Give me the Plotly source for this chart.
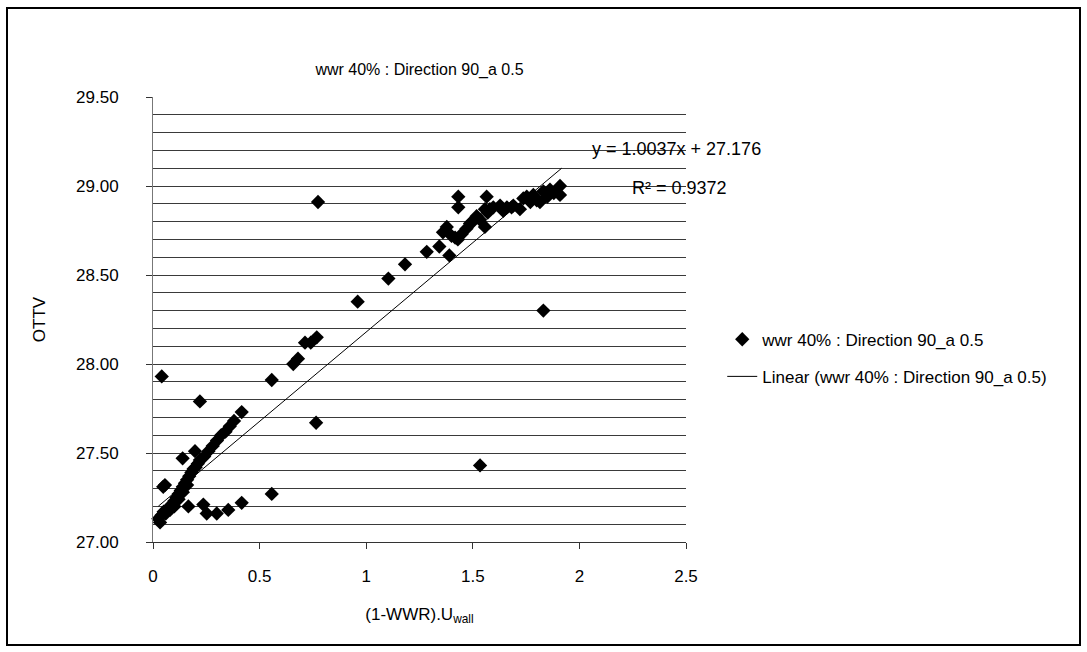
import plotly.graph_objects as go

# ---------------- data ----------------
x_vals = [
    0.025, 0.033, 0.040, 0.050, 0.060, 0.070, 0.080, 0.090, 0.100, 0.100,
    0.110, 0.120, 0.120, 0.130, 0.140, 0.140, 0.150, 0.160, 0.160, 0.170,
    0.180, 0.190, 0.200, 0.210, 0.220, 0.240, 0.260, 0.280, 0.300, 0.320,
    0.340, 0.360, 0.380,
    0.041, 0.048, 0.056, 0.139, 0.197, 0.220, 0.416, 0.166, 0.236, 0.252,
    0.299, 0.353, 0.416, 0.557, 0.557, 0.658, 0.680, 0.713, 0.740, 0.768,
    0.765, 0.774, 0.960, 1.104, 1.182, 1.284, 1.343, 1.390, 1.432, 1.432,
    1.565, 1.534, 1.831,
    1.360, 1.378, 1.400, 1.417, 1.430, 1.448, 1.470, 1.487, 1.500, 1.518,
    1.534, 1.557, 1.557, 1.570, 1.580, 1.596, 1.628, 1.643, 1.660, 1.682,
    1.690, 1.721, 1.737, 1.753, 1.770, 1.784, 1.800, 1.815, 1.831, 1.850,
    1.862, 1.880, 1.909, 1.909,
]
y_vals = [
    27.13, 27.11, 27.15, 27.17, 27.16, 27.19, 27.18, 27.21, 27.20, 27.23,
    27.25, 27.24, 27.27, 27.29, 27.28, 27.31, 27.33, 27.32, 27.35, 27.37,
    27.39, 27.41, 27.42, 27.44, 27.46, 27.48, 27.51, 27.54, 27.57, 27.60,
    27.62, 27.65, 27.68,
    27.93, 27.31, 27.32, 27.47, 27.51, 27.79, 27.73, 27.20, 27.21, 27.16,
    27.16, 27.18, 27.22, 27.27, 27.91, 28.00, 28.03, 28.12, 28.12, 28.15,
    27.67, 28.91, 28.35, 28.48, 28.56, 28.63, 28.66, 28.61, 28.94, 28.88,
    28.94, 27.43, 28.30,
    28.74, 28.77, 28.72, 28.71, 28.70, 28.73, 28.76, 28.79, 28.80, 28.83,
    28.81, 28.87, 28.77, 28.85, 28.87, 28.88, 28.89, 28.86, 28.88, 28.88,
    28.89, 28.87, 28.93, 28.94, 28.91, 28.95, 28.92, 28.91, 28.97, 28.94,
    28.98, 28.96, 29.00, 28.95,
]

series_name = "wwr 40% : Direction 90_a 0.5"
trend_name = "Linear (wwr 40% : Direction 90_a 0.5)"
trend_slope = 1.0037
trend_intercept = 27.176
trend_x = [min(x_vals), 1.917]
trend_y = [trend_slope * v + trend_intercept for v in trend_x]

x_ticks = [0, 0.5, 1, 1.5, 2, 2.5]
x_tick_text = ["0", "0.5", "1", "1.5", "2", "2.5"]
y_ticks = [27.0, 27.5, 28.0, 28.5, 29.0, 29.5]
y_tick_text = ["27.00", "27.50", "28.00", "28.50", "29.00", "29.50"]

FONT = "Liberation Sans, Arial, sans-serif"
NARROW = "Liberation Sans Narrow, Arial Narrow, Liberation Sans, Arial, sans-serif"

fig = go.Figure()
fig.add_trace(go.Scatter(
    x=x_vals, y=y_vals, mode="markers", name=series_name,
    marker=dict(symbol="diamond", size=11, color="black"),
    legendgroup="a", cliponaxis=False,
))
fig.add_trace(go.Scatter(
    x=trend_x, y=trend_y, mode="lines", name=trend_name,
    line=dict(color="black", width=1), legendgroup="b",
))

fig.update_layout(
    width=1087, height=652,
    margin=dict(l=153, r=401, t=97, b=110),
    paper_bgcolor="white", plot_bgcolor="white",
    font=dict(family=FONT, size=17, color="black"),
    title=dict(text=series_name, x=(153 + 686) / 2 / 1087, xanchor="center",
               y=1 - 69 / 652, yanchor="middle",
               font=dict(size=16, family=NARROW)),
    showlegend=True,
    legend=dict(x=1.068, y=0.495, xanchor="left", yanchor="top",
                font=dict(size=17), tracegroupgap=12, itemwidth=30,
                bgcolor="rgba(0,0,0,0)"),
    annotations=[
        dict(text="y = 1.0037x + 27.176", x=2.05, y=29.21, xref="x", yref="y",
             xanchor="left", yanchor="middle", showarrow=False, font=dict(size=18)),
        dict(text="R² = 0.9372", x=2.237, y=28.99, xref="x", yref="y",
             xanchor="left", yanchor="middle", showarrow=False, font=dict(size=18)),
    ],
    shapes=[
        dict(type="rect", xref="paper", yref="paper",
             x0=(7 - 153) / 533, x1=(1080 - 153) / 533,
             y0=(542 - 645) / 445, y1=(542 - 8) / 445,
             line=dict(color="black", width=2), layer="below"),
    ],
)

fig.update_xaxes(
    range=[0, 2.5], tickvals=x_ticks, ticktext=x_tick_text,
    showgrid=False, zeroline=False, showline=True, linecolor="#333", linewidth=1,
    ticks="outside", ticklen=6, tickcolor="#333", ticklabelstandoff=13,
    tickfont=dict(size=17),
    title=dict(text="(1-WWR).U<sub>wall</sub>", font=dict(size=17), standoff=22),
)
fig.update_yaxes(
    range=[27.0, 29.5], tickvals=y_ticks, ticktext=y_tick_text,
    showgrid=True, gridcolor="#3a3a3a", gridwidth=1,
    minor=dict(dtick=0.1, showgrid=True, gridcolor="#3a3a3a", gridwidth=1, ticks=""),
    zeroline=False, showline=True, linecolor="#777", linewidth=1,
    ticks="outside", ticklen=6, tickcolor="#333", ticklabelstandoff=24,
    tickfont=dict(size=17),
    title=dict(text="OTTV", font=dict(size=17), standoff=26),
)

fig.write_html("out.html")
